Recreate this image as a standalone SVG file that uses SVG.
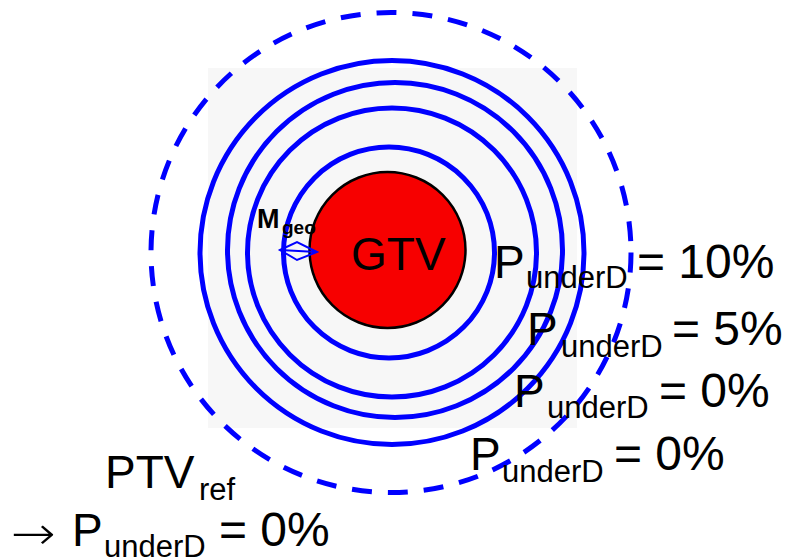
<svg xmlns="http://www.w3.org/2000/svg" width="788" height="560" viewBox="0 0 788 560">
<style>
.ring{fill:none;stroke:#0000ff;stroke-width:5}
.dash{fill:none;stroke:#0000ff;stroke-width:5;stroke-dasharray:20 16}
.t{font-family:"Liberation Sans",Arial,sans-serif;fill:#000}
.big{font-size:46px}
.eq{font-size:48px}
.sub{font-size:31px}
</style>
<rect width="788" height="560" fill="#ffffff"/>
<rect x="208" y="68" width="369" height="360" fill="#f7f7f7"/>
<g id="gtv">
<circle cx="387.5" cy="250" r="78" fill="#f70000" stroke="#000" stroke-width="2.5"/>
<text class="t big" x="351" y="270">GTV</text>
</g>
<g id="rings">
<circle class="ring" cx="389" cy="252.5" r="105.5"/>
<circle class="ring" cx="392" cy="252.5" r="144.5"/>
<circle class="ring" cx="395" cy="250" r="167.5"/>
<circle class="ring" cx="392" cy="252.5" r="192"/>
<circle class="dash" cx="391" cy="252.5" r="240"/>
</g>
<g id="mgeo">
<text class="t" x="257" y="228" font-size="27" font-weight="bold">M</text>
<text class="t" x="282" y="234" font-size="19" font-weight="bold">geo</text>
<path d="M280,250 L297,242 L317,252 L297,260 Z M280,250 L317,252" fill="none" stroke="#0000ff" stroke-width="2"/>
</g>
<g id="label1">
<text class="t big" x="494" y="278">P</text>
<text class="t sub" x="526" y="288">underD</text>
<text class="t eq" x="637" y="278">= 10%</text>
</g>
<g id="label2">
<text class="t big" x="527" y="345">P</text>
<text class="t sub" x="561" y="357">underD</text>
<text class="t eq" x="672" y="345">= 5%</text>
</g>
<g id="label3">
<text class="t big" x="514" y="407">P</text>
<text class="t sub" x="547" y="418">underD</text>
<text class="t eq" x="659" y="407">= 0%</text>
</g>
<g id="label4">
<text class="t big" x="470" y="470">P</text>
<text class="t sub" x="502" y="482">underD</text>
<text class="t eq" x="614" y="470">= 0%</text>
</g>
<g id="ptv">
<text class="t big" x="105" y="488">PTV</text>
<text class="t sub" x="199" y="500">ref</text>
<text x="11" y="549" font-family="DejaVu Sans,sans-serif" font-size="46" font-weight="200" textLength="45" lengthAdjust="spacingAndGlyphs" fill="#000">→</text>
<text class="t big" x="72" y="546">P</text>
<text class="t sub" x="104" y="557">underD</text>
<text class="t eq" x="219" y="546">= 0%</text>
</g>
</svg>
